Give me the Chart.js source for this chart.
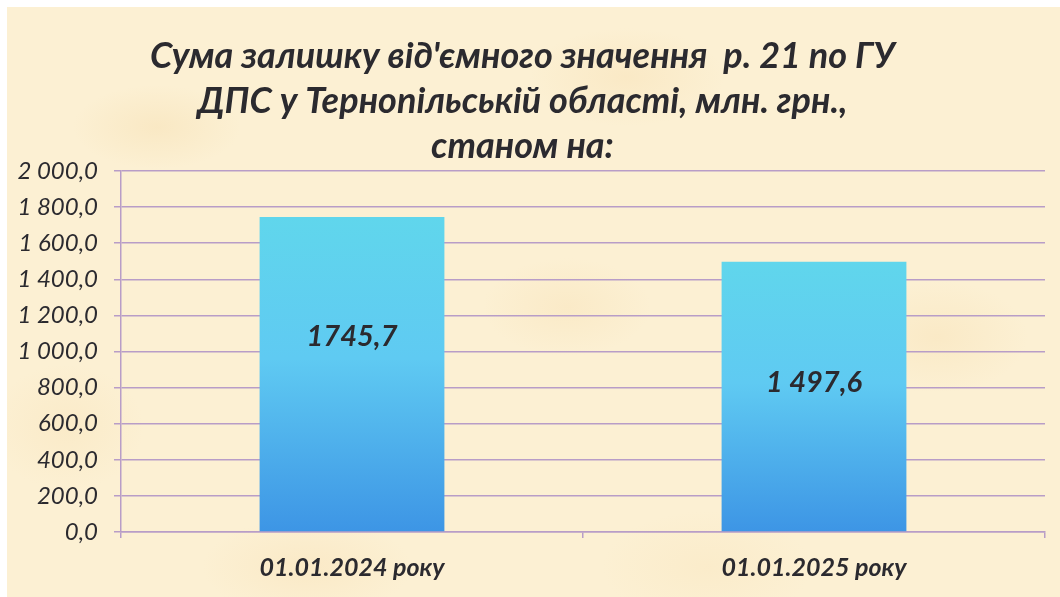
<!DOCTYPE html>
<html><head><meta charset="utf-8">
<script src="https://cdn.jsdelivr.net/npm/chart.js@4.4.1/dist/chart.umd.min.js"></script>
<style>
html,body{margin:0;padding:0;background:#ffffff;width:1060px;height:597px;overflow:hidden;}
#paper{position:absolute;left:7px;top:7px;width:1053px;height:590px;background-color:#fcf0d3;
background-image:
radial-gradient(ellipse 120px 60px at 150px 120px, rgba(244,218,168,0.35), rgba(244,218,168,0) 70%),
radial-gradient(ellipse 140px 70px at 620px 70px, rgba(246,220,172,0.35), rgba(246,220,172,0) 70%),
radial-gradient(ellipse 130px 80px at 930px 330px, rgba(245,218,168,0.3), rgba(245,218,168,0) 70%),
radial-gradient(ellipse 150px 70px at 300px 560px, rgba(246,218,170,0.3), rgba(246,218,170,0) 70%),
radial-gradient(ellipse 110px 90px at 60px 420px, rgba(247,222,175,0.3), rgba(247,222,175,0) 70%),
radial-gradient(ellipse 150px 80px at 700px 560px, rgba(248,226,182,0.3), rgba(248,226,182,0) 70%),
radial-gradient(ellipse 120px 70px at 560px 300px, rgba(246,220,172,0.3), rgba(246,220,172,0) 70%);}
#box{position:absolute;left:0;top:0;width:1060px;height:597px;}
</style></head>
<body>
<div id="paper"></div>
<div id="box"><canvas id="c" width="1060" height="597"></canvas></div>
<script>
const categories = ["01.01.2024 року", "01.01.2025 року"];
const values = [1745.7, 1497.6];
const valueLabels = ["1745,7", "1 497,6"];
const yTickLabels = ["0,0","200,0","400,0","600,0","800,0","1 000,0","1 200,0","1 400,0","1 600,0","1 800,0","2 000,0"];
const titleLines = ["Сума залишку від'ємного значення  р. 21 по ГУ", "ДПС у Тернопільській області, млн. грн.,", "станом на:"];

const FONT = "Lato, 'Open Sans', 'Noto Sans', sans-serif";
const GRID = "#b89dc7";
const TEXT = "#2b2a2f";

function barFill(ctx){
  const chart = ctx.chart;
  if(!chart.chartArea || ctx.raw === undefined) return "#5ec8f2";
  const y = chart.scales.y;
  const top = y.getPixelForValue(ctx.raw);
  const bot = y.getPixelForValue(0);
  const g = chart.ctx.createLinearGradient(0, top, 0, bot);
  g.addColorStop(0, "#60d6ec");
  g.addColorStop(0.45, "#5fcaf2");
  g.addColorStop(1, "#3d95e5");
  return g;
}

const valueLabelPlugin = {
  id: "valueLabelPlugin",
  afterDatasetsDraw(chart, args, opts){
    const ctx = chart.ctx;
    const meta = chart.getDatasetMeta(0);
    ctx.save();
    ctx.font = "italic bold " + opts.size + "px " + FONT;
    ctx.fillStyle = TEXT;
    ctx.textAlign = "center";
    ctx.textBaseline = "middle";
    meta.data.forEach((bar, i) => {
      const f = opts.fractions[i];
      const yy = bar.y + (bar.base - bar.y) * f;
      ctx.fillText(valueLabels[i], bar.x, yy);
    });
    ctx.restore();
  }
};

new Chart(document.getElementById("c"), {
  type: "bar",
  data: {
    labels: categories,
    datasets: [{
      data: values,
      backgroundColor: barFill,
      borderWidth: 0,
      categoryPercentage: 1.0,
      barPercentage: 0.4
    }]
  },
  plugins: [valueLabelPlugin],
  options: {
    responsive: false,
    animation: false,
    devicePixelRatio: 1,
    layout: { padding: { left: 0, right: 15, top: 0, bottom: 0 } },
    plugins: {
      legend: { display: false },
      tooltip: { enabled: false },
      title: {
        display: true,
        text: titleLines,
        color: TEXT,
        font: { family: FONT, size: 36, weight: "bold", style: "italic", lineHeight: 1.25 },
        padding: { top: 34, bottom: 2 }
      },
      valueLabelPlugin: { size: 29, fractions: [0.38, 0.45] }
    },
    scales: {
      x: {
        offset: true,
        grid: { display: true, drawOnChartArea: false, drawTicks: true, tickLength: 6, color: GRID, lineWidth: 1.5, offset: true },
        border: { display: true, color: GRID, width: 1.5 },
        ticks: { color: TEXT, padding: 15, font: { family: FONT, size: 25, weight: "bold", style: "italic" } },
        afterFit(s){ s.height = 65; }
      },
      y: {
        min: 0, max: 2000,
        ticks: {
          stepSize: 200,
          color: TEXT,
          padding: 16,
          font: { family: FONT, size: 24, style: "italic" },
          callback: (v, i) => yTickLabels[i]
        },
        grid: { color: GRID, lineWidth: 1.5, tickLength: 7 },
        border: { display: true, color: GRID, width: 1.5 },
        afterFit(s){ s.width = 121; }
      }
    }
  }
});
</script>
</body></html>
